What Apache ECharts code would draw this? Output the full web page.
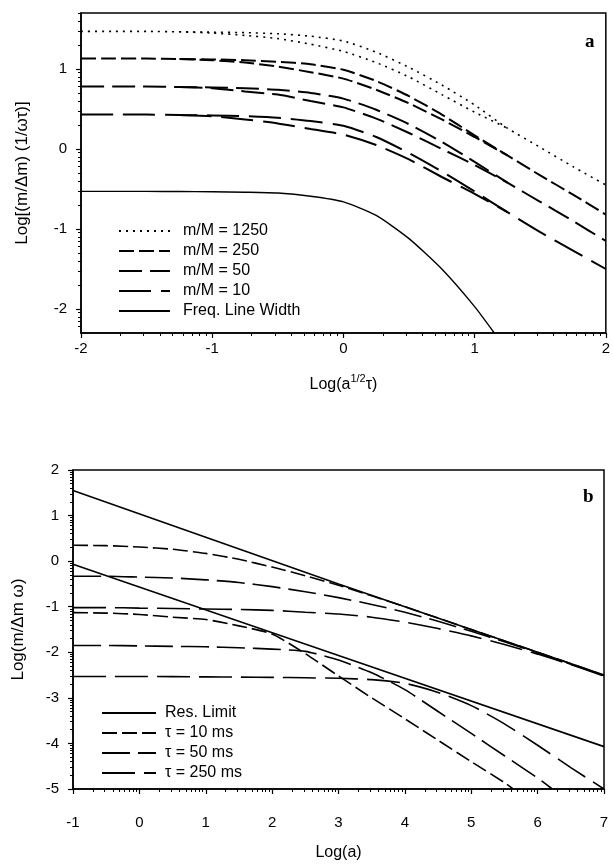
<!DOCTYPE html>
<html><head><meta charset="utf-8">
<script src="https://cdn.jsdelivr.net/npm/echarts@6/dist/echarts.min.js"></script>
<style>html,body{margin:0;padding:0;background:#fff}#c{width:613px;height:865px}</style>
</head><body><div id="c"></div>
<script>
// ---------- Panel a data ----------
var xA = [-2,-1.75,-1.5,-1.25,-1,-0.75,-0.5,-0.25,0,0.25,0.5,0.75,1,1.25,1.5,1.75,2];
var xSplit = [-1.25,-1,-0.75,-0.5,-0.25,0,0.25,0.5,0.75,1,1.25];
var m1250A = [1.47,1.47,1.47,1.465,1.46,1.455,1.44,1.41,1.35,1.21,1.02,0.8,0.55,0.26,0.02,-0.22,-0.45];
var m1250B = [1.465,1.45,1.42,1.38,1.31,1.22,1.08,0.9,0.68,0.46,0.26];
var m250A  = [1.13,1.13,1.13,1.125,1.12,1.11,1.09,1.06,0.99,0.85,0.66,0.43,0.17,-0.08,-0.33,-0.57,-0.82];
var m250B  = [1.125,1.11,1.08,1.03,0.96,0.88,0.74,0.57,0.37,0.15,-0.08];
var m50A   = [0.78,0.78,0.78,0.775,0.77,0.76,0.74,0.7,0.63,0.49,0.31,0.09,-0.16,-0.42,-0.66,-0.9,-1.15];
var m50B   = [0.775,0.76,0.72,0.68,0.6,0.52,0.38,0.2,0.0,-0.2,-0.42];
var m10A   = [0.43,0.43,0.43,0.425,0.42,0.41,0.39,0.35,0.29,0.15,-0.05,-0.28,-0.53,-0.79,-1.04,-1.27,-1.5];
var m10B   = [0.425,0.41,0.37,0.32,0.25,0.18,0.05,-0.13,-0.35,-0.56,-0.79];
var xFreq  = [-2,-1.75,-1.5,-1.25,-1,-0.75,-0.5,-0.25,0,0.25,0.5,0.75,1,1.15];
var freqLW = [-0.53,-0.53,-0.53,-0.532,-0.535,-0.54,-0.55,-0.59,-0.66,-0.83,-1.12,-1.5,-1.97,-2.3];
var ticksXA = [-2,-1,0,1,2];
var ticksYA = [-2,-1,0,1];

// ---------- Panel b data ----------
var xRes = [-1,3,7];
var resUpper = [1.55,-0.5,-2.5];
var resLower = [-0.07,-2.07,-4.07];
var xB = [-1,-0.5,0,0.5,1,1.5,2,2.5,3,3.5,4,4.5,5,5.5,6,6.5,7];
var t10Up  = [0.35,0.34,0.31,0.26,0.17,0.04,-0.13,-0.32,-0.53,-0.76,-1.0,-1.25,-1.5,-1.75,-2.0,-2.25,-2.51];
var t50Up  = [-0.33,-0.33,-0.35,-0.37,-0.41,-0.47,-0.56,-0.67,-0.8,-0.95,-1.12,-1.32,-1.54,-1.77,-2.01,-2.26,-2.51];
var t250Up = [-1.02,-1.02,-1.03,-1.04,-1.05,-1.06,-1.08,-1.12,-1.16,-1.23,-1.34,-1.48,-1.64,-1.83,-2.04,-2.27,-2.52];
var xT10Lo = [-1,-0.5,0,0.5,1,1.5,2,2.5,3,3.5,4,4.5,5,5.5,5.63];
var t10Lo  = [-1.13,-1.14,-1.17,-1.23,-1.28,-1.42,-1.6,-2.03,-2.52,-3.0,-3.46,-3.93,-4.4,-4.86,-5.0];
var xT50Lo = [-1,-0.5,0,0.5,1,1.5,2,2.5,3,3.5,4,4.5,5,5.5,6,6.22];
var t50Lo  = [-1.85,-1.85,-1.86,-1.87,-1.88,-1.9,-1.93,-1.98,-2.17,-2.45,-2.82,-3.3,-3.78,-4.27,-4.76,-5.0];
var xT250Lo = [-1,-0.5,0,0.5,1,1.5,2,2.5,3,3.5,4,4.5,5,5.5,6,6.5,7];
var t250Lo  = [-2.53,-2.53,-2.53,-2.535,-2.54,-2.545,-2.55,-2.56,-2.57,-2.6,-2.68,-2.88,-3.17,-3.57,-4.04,-4.53,-5.0];
var ticksXB = [-1,0,1,2,3,4,5,6,7];
var ticksYB = [-5,-4,-3,-2,-1,0,1,2];

function pairs(xs, ys){ return xs.map(function(x,i){ return [x, ys[i]]; }); }
function minorTicks(lo, hi){
  var out = [];
  for (var n = Math.floor(lo) - 1; n <= Math.ceil(hi); n++) {
    for (var k = 2; k <= 9; k++) {
      var v = n + Math.log10(k);
      if (v > lo + 1e-9 && v < hi - 1e-9) out.push(v);
    }
  }
  return out;
}

var FONT = '"Liberation Sans", Arial, sans-serif';
var BLK = '#000';

function majorAxis(grid, min, max, ticks, pos, extra, margin){
  var ax = {
    gridIndex: grid, type: 'value', min: min, max: max, position: pos,
    axisLine: {show: true, onZero: false, lineStyle: {color: BLK, width: 1.5}},
    axisTick: {show: true, inside: false, length: 5, customValues: ticks, lineStyle: {color: BLK, width: 1.2}},
    axisLabel: {customValues: ticks, color: BLK, fontSize: 15, fontFamily: FONT, margin: margin},
    splitLine: {show: false}
  };
  for (var k in extra) ax[k] = extra[k];
  return ax;
}
function minorAxis(grid, min, max, pos){
  return {
    gridIndex: grid, type: 'value', min: min, max: max, position: pos,
    axisLine: {show: false, onZero: false},
    axisTick: {show: true, inside: false, length: 3, customValues: minorTicks(min, max), lineStyle: {color: BLK, width: 1}},
    axisLabel: {show: false}, splitLine: {show: false}
  };
}

function lineSeries(name, data, dash, width, ai, smooth){
  return {
    type: 'line', name: name, data: data, xAxisIndex: ai, yAxisIndex: ai,
    symbol: 'none', showSymbol: false, smooth: smooth === false ? false : 0.2,
    lineStyle: {color: BLK, width: width, type: dash}, itemStyle: {color: BLK},
    z: 3, animation: false
  };
}

var option = {
  animation: false,
  backgroundColor: '#fff',
  grid: [
    {left: 81, top: 13, width: 526, height: 320, show: true, borderColor: BLK, borderWidth: 1.5, backgroundColor: 'transparent'},
    {left: 73, top: 470, width: 531, height: 319, show: true, borderColor: BLK, borderWidth: 1.5, backgroundColor: 'transparent'}
  ],
  xAxis: [
    majorAxis(0, -2, 2, ticksXA, 'bottom', {
      name: '{n|Log(a}{s|1/2}{n|τ)}', nameLocation: 'middle', nameGap: 40,
      nameTextStyle: {rich: {n: {fontSize: 16, fontFamily: FONT, color: BLK, lineHeight: 20, verticalAlign: 'bottom'},
                             s: {fontSize: 11, fontFamily: FONT, color: BLK, lineHeight: 20, verticalAlign: 'top'}}}
    }, 8),
    minorAxis(0, -2, 2, 'bottom'),
    majorAxis(1, -1, 7, ticksXB, 'bottom', {
      name: 'Log(a)', nameLocation: 'middle', nameGap: 56,
      nameTextStyle: {fontSize: 16, fontFamily: FONT, color: BLK}
    }, 26),
    minorAxis(1, -1, 7, 'bottom')
  ],
  yAxis: [
    majorAxis(0, -2.3, 1.7, ticksYA, 'left', {
      name: 'Log[(m/Δm) (1/ωτ)]', nameLocation: 'middle', nameGap: 50,
      nameTextStyle: {fontSize: 17, fontFamily: FONT, color: BLK}
    }, 14),
    minorAxis(0, -2.3, 1.7, 'left'),
    majorAxis(1, -5, 2, ticksYB, 'left', {
      name: 'Log(m/Δm ω)', nameLocation: 'middle', nameGap: 46,
      nameTextStyle: {fontSize: 17, fontFamily: FONT, color: BLK}
    }, 14),
    minorAxis(1, -5, 2, 'left')
  ],
  legend: [
    {data: ['m/M = 1250','m/M = 250','m/M = 50','m/M = 10','Freq. Line Width'],
     orient: 'vertical', left: 113, top: 218, itemWidth: 51, itemHeight: 14, itemGap: 4,
     selectedMode: false, itemStyle: {opacity: 0},
     textStyle: {fontSize: 16, fontFamily: FONT, color: BLK, padding: [0,0,0,8]}},
    {data: ['Res. Limit','τ = 10 ms','τ = 50 ms','τ = 250 ms'],
     orient: 'vertical', left: 96, top: 700, itemWidth: 54, itemHeight: 14, itemGap: 4,
     selectedMode: false, itemStyle: {opacity: 0},
     textStyle: {fontSize: 16, fontFamily: FONT, color: BLK, padding: [0,0,0,4]}}
  ],
  graphic: [
    {type: 'text', left: 585, top: 33, style: {text: 'a', font: 'bold 19px "Liberation Serif", serif', fill: BLK}},
    {type: 'text', left: 583, top: 488, style: {text: 'b', font: 'bold 19px "Liberation Serif", serif', fill: BLK}}
  ],
  series: [
    lineSeries('m/M = 1250', pairs(xA, m1250A), [2,5], 1.6, 0),
    lineSeries('m/M = 1250', pairs(xSplit, m1250B), [2,5], 1.6, 0),
    lineSeries('m/M = 250', pairs(xA, m250A), [15,5], 2, 0),
    lineSeries('m/M = 250', pairs(xSplit, m250B), [15,5], 2, 0),
    lineSeries('m/M = 50', pairs(xA, m50A), [23,8], 2, 0),
    lineSeries('m/M = 50', pairs(xSplit, m50B), [23,8], 2, 0),
    lineSeries('m/M = 10', pairs(xA, m10A), [32,10], 2, 0),
    lineSeries('m/M = 10', pairs(xSplit, m10B), [32,10], 2, 0),
    lineSeries('Freq. Line Width', pairs(xFreq, freqLW), 'solid', 1.4, 0),

    lineSeries('Res. Limit', pairs(xRes, resUpper), 'solid', 1.6, 2, false),
    lineSeries('Res. Limit', pairs(xRes, resLower), 'solid', 1.6, 2, false),
    lineSeries('τ = 10 ms', pairs(xB, t10Up), [15,5], 1.6, 2),
    lineSeries('τ = 10 ms', pairs(xT10Lo, t10Lo), [15,5], 1.6, 2),
    lineSeries('τ = 50 ms', pairs(xB, t50Up), [28,8], 1.6, 2),
    lineSeries('τ = 50 ms', pairs(xT50Lo, t50Lo), [28,8], 1.6, 2),
    lineSeries('τ = 250 ms', pairs(xB, t250Up), [33,9], 1.6, 2),
    lineSeries('τ = 250 ms', pairs(xT250Lo, t250Lo), [33,9], 1.6, 2)
  ]
};

var chart = echarts.init(document.getElementById('c'), null, {renderer: 'canvas'});
chart.setOption(option);
</script></body></html>
